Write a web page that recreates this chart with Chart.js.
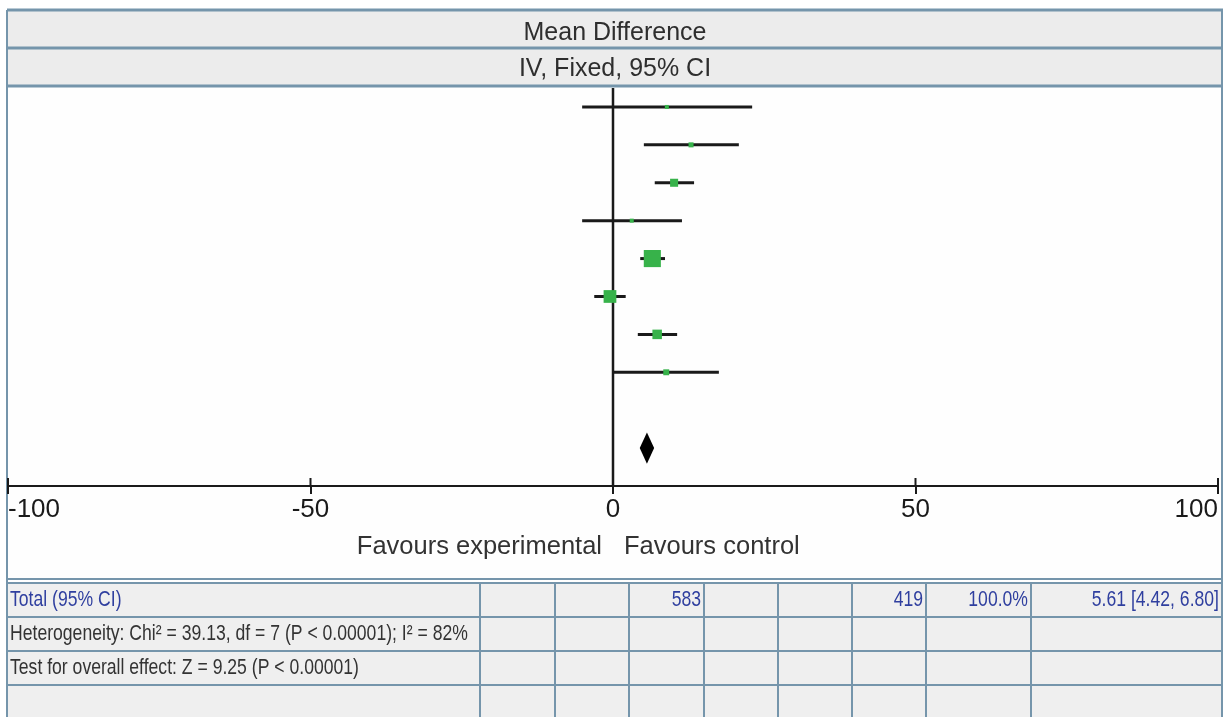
<!DOCTYPE html>
<html>
<head>
<meta charset="utf-8">
<script src="https://cdn.jsdelivr.net/npm/chart.js@4.4.1/dist/chart.umd.min.js"></script>
<style>
  html, body { margin: 0; padding: 0; background: #fff; }
  #wrap { width: 1230px; height: 717px; }
</style>
</head>
<body>
<div id="wrap"><canvas id="forestChart" width="1230" height="717"></canvas></div>
<script>
// Forest plot data (mean difference, IV fixed)
const rowIndex = [1, 2, 3, 4, 5, 6, 7, 8];
const meanDiff = [8.9, 12.9, 10.1, 3.1, 6.5, -0.5, 7.3, 8.8];
const ciLower = [-5.1, 5.1, 6.9, -5.1, 4.5, -3.1, 4.1, 0.1];
const ciUpper = [23.0, 20.8, 13.4, 11.4, 8.6, 2.1, 10.6, 17.5];
const weights = [2.3, 3.6, 9.2, 2.3, 41.6, 23.1, 12.9, 5.0];
const pooled = [5.61, 4.42, 6.80];
const pooledRow = 10;
const tickValues = [-100, -50, 0, 50, 100];
const headerTitles = ['Mean Difference', 'IV, Fixed, 95% CI'];
const favourLabels = ['Favours experimental', 'Favours control'];
const totalLabel = 'Total (95% CI)';
const totalCells = ['', '', '583', '', '', '419', '100.0%',
    pooled[0].toFixed(2) + ' [' + pooled[1].toFixed(2) + ', ' + pooled[2].toFixed(2) + ']'];
const footerLines = [
    'Heterogeneity: Chi\u00b2 = 39.13, df = 7 (P < 0.00001); I\u00b2 = 82%',
    'Test for overall effect: Z = 9.25 (P < 0.00001)'
];

const FONT = '"Liberation Sans", Arial, sans-serif';
const LINE_BLUE = '#7595ab';
const INK = '#1a1a1a';
const colEdges = [480, 555, 629, 704, 778, 852, 926, 1031, 1222];

function squeezeText(ctx, text, x, y, align, sx, sy) {
    ctx.save();
    ctx.translate(x, y);
    ctx.scale(sx, sy || 1);
    ctx.textAlign = align;
    ctx.fillText(text, 0, 0);
    ctx.restore();
}

function hLine(ctx, x1, x2, y, w, c) {
    ctx.beginPath();
    ctx.lineWidth = w;
    ctx.strokeStyle = c;
    ctx.moveTo(x1, y);
    ctx.lineTo(x2, y);
    ctx.stroke();
}

function vLine(ctx, x, y1, y2, w, c) {
    ctx.beginPath();
    ctx.lineWidth = w;
    ctx.strokeStyle = c;
    ctx.moveTo(x, y1);
    ctx.lineTo(x, y2);
    ctx.stroke();
}

const forestPlugin = {
    id: 'forestPlugin',
    beforeDraw(chart) {
        const ctx = chart.ctx;
        ctx.save();
        ctx.fillStyle = '#ffffff';
        ctx.fillRect(0, 0, 1230, 717);
        // header
        ctx.fillStyle = '#ececec';
        ctx.fillRect(8, 10, 1214, 77);
        // plot area
        ctx.fillStyle = '#fefefe';
        ctx.fillRect(8, 87, 1214, 492);
        // table
        ctx.fillStyle = '#efefef';
        ctx.fillRect(8, 583, 1214, 134);

        hLine(ctx, 7, 1223, 10, 3, LINE_BLUE);
        hLine(ctx, 8, 1222, 48, 3, LINE_BLUE);
        hLine(ctx, 8, 1222, 86, 3, LINE_BLUE);
        hLine(ctx, 8, 1222, 579, 2, LINE_BLUE);
        hLine(ctx, 8, 1222, 583, 2, LINE_BLUE);
        [617, 651, 685].forEach(y => hLine(ctx, 8, 1222, y, 2, LINE_BLUE));
        colEdges.slice(0, -1).forEach(x => vLine(ctx, x, 583, 717, 2, LINE_BLUE));
        vLine(ctx, 7, 10, 717, 2, LINE_BLUE);
        vLine(ctx, 1222, 10, 717, 2, LINE_BLUE);

        // header titles
        ctx.fillStyle = '#2e2e2e';
        ctx.font = '25px ' + FONT;
        ctx.textBaseline = 'middle';
        squeezeText(ctx, headerTitles[0], 615, 33, 'center', 1.0, 1.05);
        squeezeText(ctx, headerTitles[1], 615, 69, 'center', 1.0, 1.05);

        // table rows
        ctx.font = '20px ' + FONT;
        ctx.fillStyle = '#2f3f9f';
        squeezeText(ctx, totalLabel, 10, 600, 'left', 0.88, 1.1);
        totalCells.forEach((t, i) => {
            if (t) squeezeText(ctx, t, colEdges[i + 1] - 3, 600, 'right', 0.88, 1.1);
        });
        ctx.fillStyle = '#333';
        footerLines.forEach((t, i) => squeezeText(ctx, t, 10, 634 + i * 34, 'left', 0.88, 1.1));
        ctx.restore();
    },
    beforeDatasetsDraw(chart) {
        const ctx = chart.ctx;
        const x = chart.scales.x;
        const area = chart.chartArea;
        ctx.save();
        vLine(ctx, x.getPixelForValue(0), area.top, area.bottom, 2.5, INK);
        ctx.restore();
    },
    afterDraw(chart) {
        const ctx = chart.ctx;
        const x = chart.scales.x;
        const y = chart.scales.y;
        const area = chart.chartArea;
        ctx.save();
        // upper half of tick marks
        tickValues.forEach(v => vLine(ctx, x.getPixelForValue(v), area.bottom - 8, area.bottom, 2, INK));
        // pooled diamond
        const cy = y.getPixelForValue(pooledRow);
        const half = y.getPixelForValue(pooledRow + 0.41) - cy;
        ctx.beginPath();
        ctx.moveTo(x.getPixelForValue(pooled[1]), cy);
        ctx.lineTo(x.getPixelForValue(pooled[0]), cy - half);
        ctx.lineTo(x.getPixelForValue(pooled[2]), cy);
        ctx.lineTo(x.getPixelForValue(pooled[0]), cy + half);
        ctx.closePath();
        ctx.fillStyle = '#000';
        ctx.fill();
        // favours labels
        const zx = x.getPixelForValue(0);
        ctx.font = '25.5px ' + FONT;
        ctx.fillStyle = '#333';
        ctx.textBaseline = 'middle';
        ctx.textAlign = 'right';
        ctx.fillText(favourLabels[0], zx - 11, 547);
        ctx.textAlign = 'left';
        ctx.fillText(favourLabels[1], zx + 11, 547);
        ctx.restore();
    }
};

const ciDatasets = rowIndex.map((r, i) => ({
    type: 'scatter',
    data: [{ x: ciLower[i], y: r }, { x: ciUpper[i], y: r }],
    showLine: true,
    borderColor: INK,
    borderWidth: 3,
    pointRadius: 0,
    order: 2
}));

const pointDataset = {
    type: 'scatter',
    data: rowIndex.map((r, i) => ({ x: meanDiff[i], y: r })),
    pointStyle: 'rect',
    pointRadius: weights.map(w => 2.65 * Math.sqrt(w) / Math.SQRT2),
    backgroundColor: '#37b24a',
    borderWidth: 0,
    order: 1
};

const ctx = document.getElementById('forestChart').getContext('2d');
const forestChart = new Chart(ctx, {
    type: 'scatter',
    data: { datasets: [pointDataset, ...ciDatasets] },
    options: {
        responsive: false,
        animation: false,
        events: [],
        layout: { autoPadding: false, padding: { left: 8, right: 12, top: 88, bottom: 0 } },
        plugins: {
            legend: { display: false },
            tooltip: { enabled: false }
        },
        scales: {
            x: {
                type: 'linear',
                min: -100,
                max: 100,
                afterBuildTicks(scale) {
                    scale.ticks = tickValues.map(v => ({ value: v }));
                },
                afterFit(scale) {
                    scale.height = 717 - 486;
                    scale.paddingLeft = 0;
                    scale.paddingRight = 0;
                },
                ticks: {
                    align: 'inner',
                    maxRotation: 0,
                    autoSkip: false,
                    padding: 0,
                    color: INK,
                    font: { family: FONT, size: 26 }
                },
                grid: {
                    drawOnChartArea: false,
                    drawTicks: true,
                    tickLength: 8,
                    tickColor: INK,
                    tickWidth: 2,
                    color: INK,
                    lineWidth: 2
                },
                border: { display: true, color: INK, width: 2 }
            },
            y: {
                type: 'linear',
                min: 0.5,
                max: 11,
                reverse: true,
                display: false
            }
        }
    },
    plugins: [forestPlugin]
});
</script>
</body>
</html>
